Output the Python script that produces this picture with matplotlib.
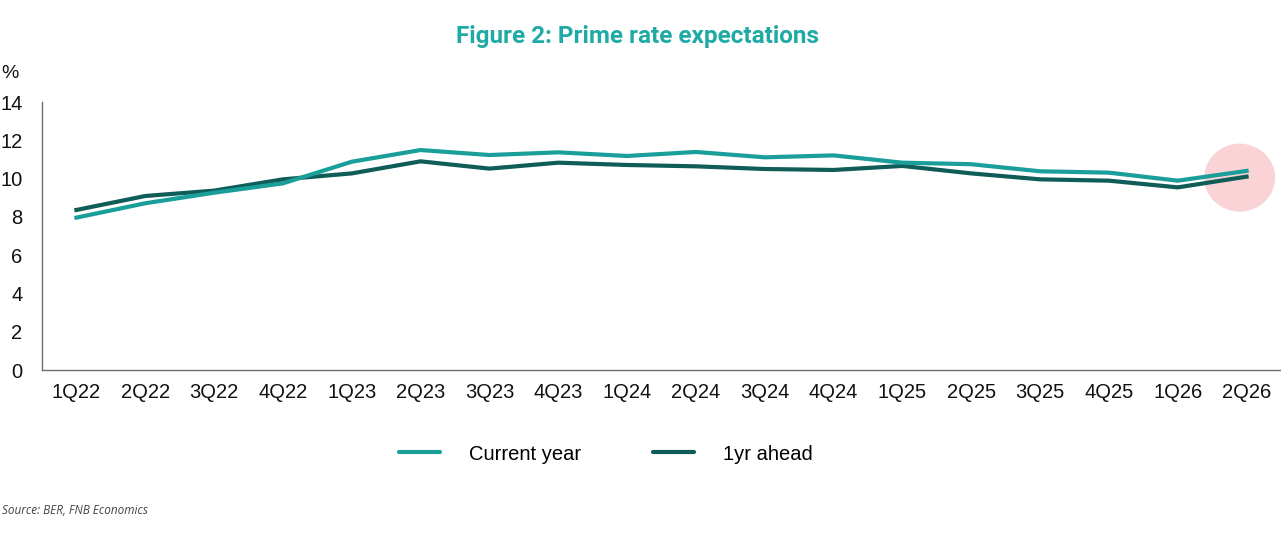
import matplotlib
matplotlib.use("Agg")
import matplotlib.pyplot as plt
from matplotlib.patches import Ellipse

# Data
QUARTERS = ["1Q22", "2Q22", "3Q22", "4Q22", "1Q23", "2Q23", "3Q23", "4Q23", "1Q24",
            "2Q24", "3Q24", "4Q24", "1Q25", "2Q25", "3Q25", "4Q25", "1Q26", "2Q26"]
CURRENT_YEAR = [7.96, 8.71, 9.26, 9.75, 10.88, 11.49, 11.23, 11.37, 11.18,
                11.39, 11.11, 11.21, 10.83, 10.75, 10.38, 10.31, 9.89, 10.40]
ONE_YR_AHEAD = [8.36, 9.09, 9.37, 9.96, 10.27, 10.90, 10.52, 10.83, 10.71,
                10.64, 10.50, 10.45, 10.66, 10.27, 9.96, 9.89, 9.54, 10.10]
Y_TICKS = [0, 2, 4, 6, 8, 10, 12, 14]

TEAL = "#1a9e9a"
DARK = "#0f5c58"
TITLE_COLOR = "#1faaa6"

fig = plt.figure(figsize=(12.81, 5.44), dpi=100)
ax = fig.add_axes([42 / 1281, 174 / 544, 1 - 42 / 1281, 268 / 544])

x = list(range(len(QUARTERS)))

# highlight on the latest quarter
ax.add_patch(Ellipse((16.9, 10.05), 1.03, 3.55, color="#f9d3d5", zorder=1, lw=0))

ax.plot(x, CURRENT_YEAR, color=TEAL, linewidth=3, label="Current year", zorder=3,
        solid_joinstyle="round")
ax.plot(x, ONE_YR_AHEAD, color=DARK, linewidth=3, label="1yr ahead", zorder=2,
        solid_joinstyle="round")

ax.set_xlim(-0.5, len(QUARTERS) - 0.5)
ax.set_ylim(0, 14)
ax.set_xticks(x)
ax.set_xticklabels(QUARTERS)
ax.set_yticks(Y_TICKS)
ax.tick_params(length=0, labelsize=14.5, colors="#111111")
ax.tick_params(axis="x", pad=9)
ax.tick_params(axis="y", pad=14)
for lab in ax.get_xticklabels() + ax.get_yticklabels():
    lab.set_fontfamily("Liberation Sans")

for side in ["top", "right"]:
    ax.spines[side].set_visible(False)
for side in ["left", "bottom"]:
    ax.spines[side].set_color("#6f6f6f")
    ax.spines[side].set_linewidth(1.0)

fig.text(10 / 1281, 1 - 73 / 544, "%", fontsize=14, family="Liberation Sans",
         ha="center", va="center", color="#111111")

fig.text(638 / 1281, 1 - 36 / 544, "Figure 2: Prime rate expectations",
         fontsize=17.5, fontweight="bold", family="Roboto", color=TITLE_COLOR,
         ha="center", va="center")

leg = fig.legend(loc="center", bbox_to_anchor=(606 / 1281, 1 - 454 / 544), ncol=2,
                 frameon=False, handlelength=2.0, handletextpad=1.45, columnspacing=3.6,
                 prop={"family": "Liberation Sans", "size": 14.5})
for line in leg.get_lines():
    line.set_solid_capstyle("round")

fig.text(2 / 1281, 1 - 510 / 544, "Source: BER, FNB Economics", fontsize=8.5,
         style="italic", family="Open Sans", color="#444444", ha="left", va="center")

fig.savefig("out.png", dpi=100)
